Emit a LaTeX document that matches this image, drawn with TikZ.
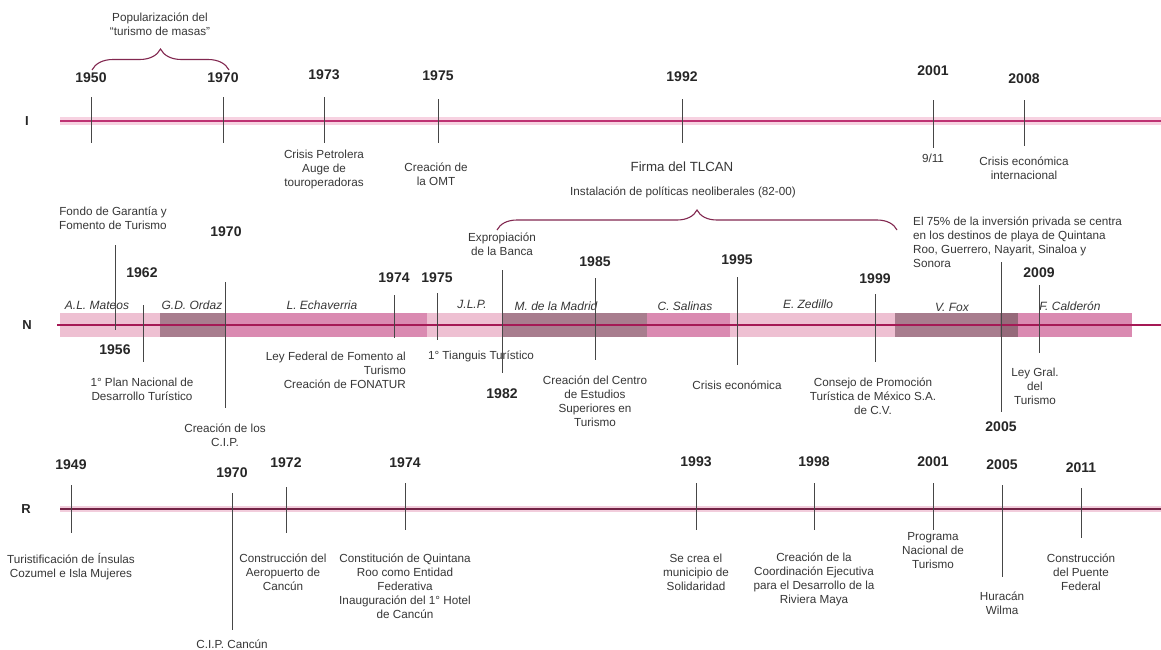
\documentclass[tikz,border=0pt]{standalone}
\usepackage{fontspec}
\setmainfont{Liberation Sans}
\usetikzlibrary{decorations.pathreplacing}
\definecolor{txtgray}{RGB}{55,55,55}
\definecolor{tickgray}{RGB}{70,70,70}
\definecolor{magI}{RGB}{190,50,115}
\definecolor{glowI}{RGB}{247,210,225}
\definecolor{magN}{RGB}{165,25,85}
\definecolor{magR}{RGB}{115,35,70}
\definecolor{glowR}{RGB}{242,205,220}
\definecolor{bandL}{RGB}{238,192,210}
\definecolor{bandM}{RGB}{218,138,177}
\definecolor{bandD}{RGB}{168,125,142}
\definecolor{bandX}{RGB}{150,105,122}
\definecolor{bracecol}{RGB}{130,40,80}
\newcommand\tk[4]{\coordinate (#1t) at (#2,#3); \coordinate (#1b) at (#2,#4); \draw[tickline] (#1t) -- (#1b);}
\begin{document}
\begin{tikzpicture}[x=1pt,y=-1pt,
  txt/.style={font=\fontsize{11.7}{14}\selectfont, text=txtgray, align=center, inner sep=0pt},
  yr/.style={font=\fontsize{14}{16}\selectfont\bfseries, text=black!85, inner sep=0pt},
  rowlab/.style={font=\fontsize{13}{15}\selectfont\bfseries, text=black!85, inner sep=0pt},
  adm/.style={font=\fontsize{12}{14}\selectfont\itshape, text=txtgray, inner sep=0pt},
  tickline/.style={draw=tickgray, line width=1pt},
  mybrace/.style={decorate, decoration={brace, amplitude=#1}, draw=bracecol, line width=1.1pt}]
\useasboundingbox (0,0) rectangle (1161,649);
\fill[white] (0,0) rectangle (1161,649);

% ---------------- row I ----------------
\node[rowlab] (labI) at (27,121) {I};
\coordinate (Is) at (60,121); \coordinate (Ie) at (1161,121);
\draw[draw=glowI, line width=8pt] (Is) -- (Ie);
\draw[draw=magI, line width=2.6pt] (Is) -- (Ie);

\tk{i50}{91}{97}{143}
\tk{i70}{223}{97}{143}
\tk{i73}{324}{97}{143}
\tk{i75}{438}{99}{143}
\tk{i92}{682}{99}{143}
\tk{i01}{933}{100}{148}
\tk{i08}{1024}{100}{146}

\node[yr] (yi50) at (91,78) {1950};
\node[yr] (yi70) at (223,78) {1970};
\node[yr] (yi73) at (324,75) {1973};
\node[yr] (yi75) at (438,76) {1975};
\node[yr] (yi92) at (682,77) {1992};
\node[yr] (yi01) at (933,71) {2001};
\node[yr] (yi08) at (1024,79) {2008};

\coordinate (b1s) at (92,70); \coordinate (b1e) at (229,70);
\draw[mybrace=21] (b1s) -- (b1e);
\node[txt] (pop) at (160,24) {Popularización del\\``turismo de masas''};

\node[txt] (ti73) at (324,169) {Crisis Petrolera\\Auge de\\touroperadoras};
\node[txt] (ti75) at (436,174) {Creación de\\la OMT};
\node[txt, font=\fontsize{13.3}{15}\selectfont] (ti92) at (682,167) {Firma del TLCAN};
\node[txt] (ti01) at (933,158) {9/11};
\node[txt] (ti08) at (1024,168) {Crisis económica\\internacional};

\node[txt] (neo) at (683,192) {Instalación de políticas neoliberales (82-00)};
\coordinate (b2s) at (497,230); \coordinate (b2e) at (897,230);
\draw[mybrace=20] (b2s) -- (b2e);

% ---------------- row N ----------------
\node[rowlab] (labN) at (27,325) {N};
\fill[bandL] (60,313) rectangle (160,337);
\fill[bandD] (160,313) rectangle (225,337);
\fill[bandM] (225,313) rectangle (427,337);
\fill[bandL] (427,313) rectangle (502,337);
\fill[bandD] (502,313) rectangle (647,337);
\fill[bandM] (647,313) rectangle (730,337);
\fill[bandL] (730,313) rectangle (895,337);
\fill[bandD] (895,313) rectangle (1000,337);
\fill[bandX] (1000,313) rectangle (1018,337);
\fill[bandM] (1018,313) rectangle (1132,337);
\coordinate (Ns) at (57,325); \coordinate (Ne) at (1161,325);
\draw[draw=magN, line width=2pt] (Ns) -- (Ne);

\node[adm] (a1) at (97,305) {A.L. Mateos};
\node[adm] (a2) at (192,305) {G.D. Ordaz};
\node[adm] (a3) at (322,305) {L. Echaverria};
\node[adm] (a4) at (472,304) {J.L.P.};
\node[adm] (a5) at (556,306) {M. de la Madrid};
\node[adm] (a6) at (685,306) {C. Salinas};
\node[adm] (a7) at (808,304) {E. Zedillo};
\node[adm] (a8) at (952,307) {V. Fox};
\node[adm] (a9) at (1070,306) {F. Calderón};

\tk{n56}{115}{245}{330}
\tk{n62}{143}{305}{362}
\tk{n70}{225}{282}{408}
\tk{n74}{394}{295}{338}
\tk{n75}{437}{293}{340}
\tk{n82}{502}{270}{373}
\tk{n85}{595}{278}{360}
\tk{n95}{737}{277}{365}
\tk{n99}{875}{294}{362}
\tk{n05}{1001}{262}{412}
\tk{n09}{1039}{285}{353}

\node[yr] (yn56) at (115,350) {1956};
\node[yr] (yn62) at (142,273) {1962};
\node[yr] (yn70) at (226,232) {1970};
\node[yr] (yn74) at (394,278) {1974};
\node[yr] (yn75) at (437,278) {1975};
\node[yr] (yn82) at (502,394) {1982};
\node[yr] (yn85) at (595,262) {1985};
\node[yr] (yn95) at (737,260) {1995};
\node[yr] (yn99) at (875,279) {1999};
\node[yr] (yn05) at (1001,427) {2005};
\node[yr] (yn09) at (1039,273) {2009};

\node[txt] (tn56) at (113,218) {Fondo de Garantía y\\Fomento de Turismo};
\node[txt] (tn62) at (142,389) {1° Plan Nacional de\\Desarrollo Turístico};
\node[txt] (tn70) at (225,435) {Creación de los\\C.I.P.};
\node[txt, align=right, anchor=east] (tn74) at (406,370) {Ley Federal de Fomento al\\Turismo\\Creación de FONATUR};
\node[txt] (tn75) at (481,356) {1° Tianguis Turístico};
\node[txt] (tn82) at (502,244) {Expropiación\\de la Banca};
\node[txt] (tn85) at (595,401) {Creación del Centro\\de Estudios\\Superiores en\\Turismo};
\node[txt] (tn95) at (737,385) {Crisis económica};
\node[txt] (tn99) at (873,396) {Consejo de Promoción\\Turística de México S.A.\\de C.V.};
\node[txt, align=left, anchor=west] (tn05) at (913,242) {El 75\% de la inversión privada se centra\\en los destinos de playa de Quintana\\Roo, Guerrero, Nayarit, Sinaloa y\\Sonora};
\node[txt] (tn09) at (1035,386) {Ley Gral.\\del\\Turismo};

% ---------------- row R ----------------
\node[rowlab] (labR) at (26,509) {R};
\coordinate (Rs) at (60,509); \coordinate (Re) at (1161,509);
\draw[draw=glowR, line width=6pt] (Rs) -- (Re);
\draw[draw=magR, line width=2pt] (Rs) -- (Re);

\tk{r49}{71}{485}{533}
\tk{r70}{232}{493}{630}
\tk{r72}{286}{487}{533}
\tk{r74}{405}{483}{530}
\tk{r93}{696}{483}{530}
\tk{r98}{814}{483}{530}
\tk{r01}{933}{483}{530}
\tk{r05}{1002}{485}{577}
\tk{r11}{1081}{488}{538}

\node[yr] (yr49) at (71,465) {1949};
\node[yr] (yr70) at (232,473) {1970};
\node[yr] (yr72) at (286,463) {1972};
\node[yr] (yr74) at (405,463) {1974};
\node[yr] (yr93) at (696,462) {1993};
\node[yr] (yr98) at (814,462) {1998};
\node[yr] (yr01) at (933,462) {2001};
\node[yr] (yr05) at (1002,465) {2005};
\node[yr] (yr11) at (1081,468) {2011};

\node[txt] (tr49) at (71,567) {Turistificación de Ínsulas\\Cozumel e Isla Mujeres};
\node[txt] (tr70) at (232,644) {C.I.P. Cancún};
\node[txt] (tr72) at (283,572) {Construcción del\\Aeropuerto de\\Cancún};
\node[txt] (tr74) at (405,586) {Constitución de Quintana\\Roo como Entidad\\Federativa\\Inauguración del 1° Hotel\\de Cancún};
\node[txt] (tr93) at (696,572) {Se crea el\\municipio de\\Solidaridad};
\node[txt] (tr98) at (814,579) {Creación de la\\Coordinación Ejecutiva\\para el Desarrollo de la\\Riviera Maya};
\node[txt] (tr01) at (933,551) {Programa\\Nacional de\\Turismo};
\node[txt] (tr05) at (1002,603) {Huracán\\Wilma};
\node[txt] (tr11) at (1081,572) {Construcción\\del Puente\\Federal};
\end{tikzpicture}
\end{document}
